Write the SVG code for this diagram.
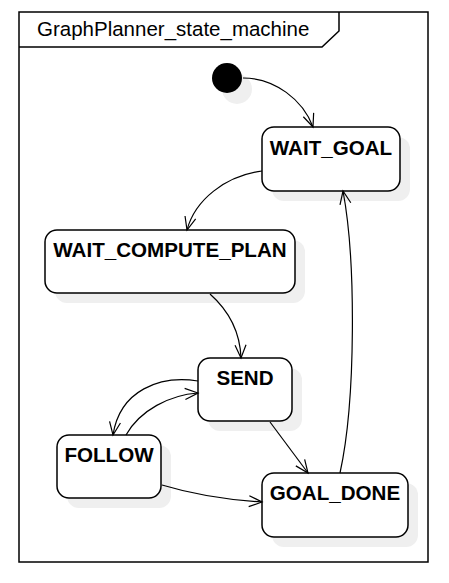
<svg xmlns="http://www.w3.org/2000/svg" width="449" height="583" viewBox="0 0 449 583">
<style>
.frame{fill:#fff;stroke:#000;stroke-width:1.5}
.shadow{fill:#efefef;stroke:none}
.node{fill:#fff;stroke:#000;stroke-width:1.5}
.lbl{font-family:"Liberation Sans",Arial,sans-serif;font-weight:bold;font-size:20.6px;fill:#000;text-anchor:middle}
.title{font-family:"Liberation Sans",Arial,sans-serif;font-size:20.5px;fill:#000}
.edge{fill:none;stroke:#000;stroke-width:1.2;marker-end:url(#arr)}
</style>
<defs>
<marker id="arr" markerUnits="userSpaceOnUse" markerWidth="16" markerHeight="16" viewBox="-14 -8 16 16" refX="0" refY="0" orient="auto">
<path d="M-13,-5.5 L0,0 L-13,5.5" fill="none" stroke="#000" stroke-width="1.2"/>
</marker>
</defs>
<g id="frame">
<rect class="frame" x="19" y="12" width="409" height="550"/>
<path d="M19,47 L322,47 L339,31 L339,12" fill="none" stroke="#000" stroke-width="1.5"/>
<text class="title" x="37" y="36">GraphPlanner_state_machine</text>
</g>
<g id="initial">
<circle class="shadow" cx="237" cy="89" r="15"/>
<circle cx="227" cy="78" r="15" fill="#000"/>
</g>
<g id="WAIT_GOAL">
<rect class="shadow" x="272" y="137" width="138" height="64" rx="12"/>
<rect class="node" x="262" y="127" width="138" height="64" rx="12"/>
<text class="lbl" x="331" y="155">WAIT_GOAL</text>
</g>
<g id="WAIT_COMPUTE_PLAN">
<rect class="shadow" x="55" y="240" width="250" height="63" rx="12"/>
<rect class="node" x="45" y="230" width="250" height="63" rx="12"/>
<text class="lbl" x="170" y="257">WAIT_COMPUTE_PLAN</text>
</g>
<g id="SEND">
<rect class="shadow" x="208" y="368" width="94" height="63" rx="12"/>
<rect class="node" x="198" y="358" width="94" height="63" rx="12"/>
<text class="lbl" x="245" y="385">SEND</text>
</g>
<g id="FOLLOW">
<rect class="shadow" x="67" y="445" width="104" height="63" rx="12"/>
<rect class="node" x="57" y="435" width="104" height="63" rx="12"/>
<text class="lbl" x="109" y="462">FOLLOW</text>
</g>
<g id="GOAL_DONE">
<rect class="shadow" x="272" y="483" width="146" height="64" rx="12"/>
<rect class="node" x="262" y="473" width="146" height="64" rx="12"/>
<text class="lbl" x="335" y="500">GOAL_DONE</text>
</g>
<g id="connectors">
<path class="edge" d="M243,78 C275,78 303,100 313,127"/>
<path class="edge" d="M262,171 C225,176 195,200 187,230"/>
<path class="edge" d="M210,294 C228,310 240,330 241,358"/>
<path class="edge" d="M198,381 C160,375 120,390 113,435"/>
<path class="edge" d="M126,435 C140,410 170,395 198,393"/>
<path class="edge" d="M270,422 L308,473"/>
<path class="edge" d="M162,485 C195,495 230,500 262,502"/>
<path class="edge" d="M340,473 C356,400 356,260 343,191"/>
</g>
</svg>
